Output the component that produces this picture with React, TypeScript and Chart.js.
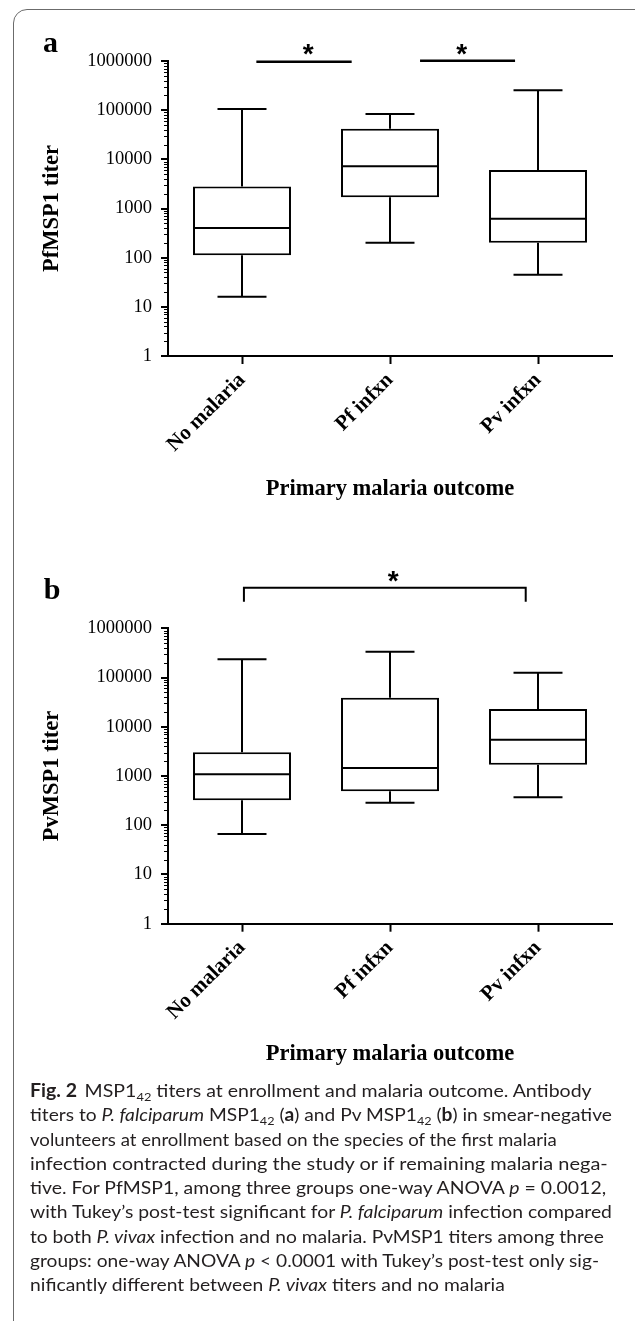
import React, { useEffect, useLayoutEffect, useRef } from 'react';
import { Chart, registerables } from 'chart.js';

Chart.register(...registerables);

// ---------- data ----------
const categories = ['No malaria', 'Pf infxn', 'Pv infxn'];
const yTickValues = [1, 10, 100, 1000, 10000, 100000, 1000000];
const yTickLabels = ['1', '10', '100', '1000', '10000', '100000', '1000000'];

// Panel a: PfMSP1 titer (box-and-whisker: min, Q1, median, Q3, max)
const pfMin = [16, 200, 45];
const pfQ1 = [112, 1700, 200];
const pfMedian = [400, 7200, 620];
const pfQ3 = [2800, 42000, 6100];
const pfMax = [105000, 84000, 255000];

// Panel b: PvMSP1 titer
const pvMin = [66, 287, 370];
const pvQ1 = [320, 490, 1700];
const pvMedian = [1080, 1450, 5450];
const pvQ3 = [3050, 39000, 23000];
const pvMax = [234000, 335000, 125000];

// significance marks (category-index positions, titer levels)
const pfSigFrom = [0.097, 1.203];
const pfSigTo = [0.741, 1.845];
const pfSigLevel = [968000, 1014000];
const pfStarAt = [0.448, 1.484];
const pfStarLevel = [1950000, 1950000];

const pvSigFrom = [0.013];
const pvSigTo = [1.917];
const pvSigLevel = [6680000];
const pvSigDrop = [3470000];
const pvStarAt = [1.022];
const pvStarLevel = [13100000];

// ---------- styling ----------
const SERIF = '"Liberation Serif", "Times New Roman", Times, serif';
const SANS = '"Liberation Sans", Arial, sans-serif';

interface PanelCfg {
  letter: string;
  letterX: number;
  letterY: number;
  yTitle: string;
  min: number[];
  q1: number[];
  med: number[];
  q3: number[];
  max: number[];
  sigFrom: number[];
  sigTo: number[];
  sigLevel: number[];
  sigDrop: (number | null)[];
  starAt: number[];
  starLevel: number[];
  canvasH: number;
  padTop: number;
  xScaleH: number;
  xTitlePad: number;
  top: number;
}

function makePlugin(cfg: PanelCfg) {
  return {
    id: 'boxWhisker' + cfg.letter,
    afterDatasetsDraw(chart: any) {
      const ctx = chart.ctx;
      const y = chart.scales.y;
      const meta = chart.getDatasetMeta(0);
      ctx.save();
      ctx.strokeStyle = '#000';
      ctx.lineWidth = 2;
      meta.data.forEach((bar: any, i: number) => {
        const p = bar.getProps(['x', 'width'], true);
        const x = p.x;
        const w = p.width;
        const cap = w / 4;
        const yMax = y.getPixelForValue(cfg.max[i]);
        const yQ3 = y.getPixelForValue(cfg.q3[i]);
        const yQ1 = y.getPixelForValue(cfg.q1[i]);
        const yMin = y.getPixelForValue(cfg.min[i]);
        const yMed = y.getPixelForValue(cfg.med[i]);
        ctx.beginPath();
        ctx.moveTo(x, yQ3);
        ctx.lineTo(x, yMax);
        ctx.moveTo(x - cap, yMax);
        ctx.lineTo(x + cap, yMax);
        ctx.moveTo(x, yQ1);
        ctx.lineTo(x, yMin);
        ctx.moveTo(x - cap, yMin);
        ctx.lineTo(x + cap, yMin);
        ctx.moveTo(x - w / 2 + 1, yMed);
        ctx.lineTo(x + w / 2 - 1, yMed);
        ctx.stroke();
      });
      ctx.restore();
    },
    afterDraw(chart: any) {
      const ctx = chart.ctx;
      const y = chart.scales.y;
      const xs = chart.scales.x;
      const left = chart.chartArea.left;
      ctx.save();
      ctx.strokeStyle = '#000';
      // y axis ticks (major + minor)
      for (let e = 0; e <= 6; e++) {
        for (let k = 1; k <= 9; k++) {
          const v = k * Math.pow(10, e);
          if (v > 1000000) break;
          const py = Math.round(y.getPixelForValue(v));
          const major = k === 1;
          ctx.lineWidth = major ? 2 : 1;
          ctx.beginPath();
          ctx.moveTo(left - (major ? 7 : 4), major ? py : py + 0.5);
          ctx.lineTo(left, major ? py : py + 0.5);
          ctx.stroke();
        }
      }
      // significance lines
      const px = (c: number) => xs.getPixelForValue(c);
      ctx.lineWidth = 2.5;
      cfg.sigFrom.forEach((f, i) => {
        const yl = y.getPixelForValue(cfg.sigLevel[i]);
        ctx.beginPath();
        const drop = cfg.sigDrop[i];
        if (drop != null) {
          const yd = y.getPixelForValue(drop);
          ctx.lineWidth = 2;
          ctx.moveTo(px(f), yd);
          ctx.lineTo(px(f), yl);
          ctx.lineTo(px(cfg.sigTo[i]), yl);
          ctx.lineTo(px(cfg.sigTo[i]), yd);
        } else {
          ctx.moveTo(px(f), yl);
          ctx.lineTo(px(cfg.sigTo[i]), yl);
        }
        ctx.stroke();
      });
      ctx.fillStyle = '#000';
      ctx.font = 'bold 28px ' + SANS;
      ctx.textAlign = 'center';
      ctx.textBaseline = 'alphabetic';
      cfg.starAt.forEach((s, i) => {
        ctx.fillText('*', px(s), y.getPixelForValue(cfg.starLevel[i]) + 0.58 * 28);
      });
      // panel letter
      ctx.font = 'bold 30px ' + SERIF;
      ctx.textAlign = 'left';
      ctx.fillText(cfg.letter, cfg.letterX, cfg.letterY);
      ctx.restore();
    },
  };
}

function buildConfig(cfg: PanelCfg): any {
  return {
    type: 'bar',
    data: {
      labels: categories,
      datasets: [
        {
          data: cfg.q1.map((v, i) => [v, cfg.q3[i]]),
          backgroundColor: '#ffffff',
          borderColor: '#000000',
          borderWidth: 2,
          borderSkipped: false,
          barPercentage: 0.662,
          categoryPercentage: 1,
        },
      ],
    },
    options: {
      responsive: false,
      animation: false,
      devicePixelRatio: 1,
      layout: { padding: { top: cfg.padTop, left: 0, right: 23, bottom: 0 } },
      plugins: {
        legend: { display: false },
        tooltip: { enabled: false },
        title: { display: false },
      },
      scales: {
        x: {
          type: 'category',
          offset: true,
          grid: {
            display: true,
            drawOnChartArea: false,
            drawTicks: true,
            tickLength: 8,
            tickWidth: 2,
            tickColor: '#000',
            offset: false,
          },
          border: { display: true, color: '#000', width: 2 },
          ticks: {
            minRotation: 45,
            maxRotation: 45,
            autoSkip: false,
            color: '#000',
            padding: 4,
            font: { family: SERIF, size: 21, weight: 'bold' },
          },
          title: {
            display: true,
            text: 'Primary malaria outcome',
            color: '#000',
            font: { family: SERIF, size: 22.5, weight: 'bold' },
            padding: { top: 0, bottom: cfg.xTitlePad },
          },
          afterFit: (s: any) => {
            s.height = cfg.xScaleH;
          },
        },
        y: {
          type: 'logarithmic',
          min: 1,
          max: 1000000,
          grid: { display: false, drawTicks: false },
          border: { display: true, color: '#000', width: 2 },
          afterBuildTicks: (s: any) => {
            s.ticks = yTickValues.map((v) => ({ value: v }));
          },
          ticks: {
            autoSkip: false,
            color: '#000',
            padding: 16,
            font: { family: SERIF, size: 18.5 },
            callback: (v: number) => yTickLabels[yTickValues.indexOf(v)] ?? '',
          },
          title: {
            display: true,
            text: cfg.yTitle,
            color: '#000',
            font: { family: SERIF, size: 22.5, weight: 'bold' },
            padding: { top: 38.5, bottom: 0 },
          },
          afterFit: (s: any) => {
            s.width = 168;
          },
        },
      },
    },
    plugins: [makePlugin(cfg)],
  };
}

const panelA: PanelCfg = {
  letter: 'a',
  letterX: 43,
  letterY: 51.7,
  yTitle: 'PfMSP1 titer',
  min: pfMin,
  q1: pfQ1,
  med: pfMedian,
  q3: pfQ3,
  max: pfMax,
  sigFrom: pfSigFrom,
  sigTo: pfSigTo,
  sigLevel: pfSigLevel,
  sigDrop: [null, null],
  starAt: pfStarAt,
  starLevel: pfStarLevel,
  canvasH: 530,
  padTop: 61,
  xScaleH: 174,
  xTitlePad: 27.5,
  top: 0,
};

const panelB: PanelCfg = {
  letter: 'b',
  letterX: 43.7,
  letterY: 69,
  yTitle: 'PvMSP1 titer',
  min: pvMin,
  q1: pvQ1,
  med: pvMedian,
  q3: pvQ3,
  max: pvMax,
  sigFrom: pvSigFrom,
  sigTo: pvSigTo,
  sigLevel: pvSigLevel,
  sigDrop: pvSigDrop,
  starAt: pvStarAt,
  starLevel: pvStarLevel,
  canvasH: 550,
  padTop: 98.3,
  xScaleH: 156.3,
  xTitlePad: 12.1,
  top: 530,
};

function Panel({ cfg }: { cfg: PanelCfg }) {
  const ref = useRef<HTMLCanvasElement>(null);
  useEffect(() => {
    const chart = new Chart(ref.current as HTMLCanvasElement, buildConfig(cfg));
    return () => chart.destroy();
  }, [cfg]);
  return (
    <canvas
      ref={ref}
      width={635}
      height={cfg.canvasH}
      style={{ position: 'absolute', left: 0, top: cfg.top, width: 635, height: cfg.canvasH }}
    />
  );
}

// ---------- caption ----------
const Sub = () => (
  <sub style={{ fontSize: '0.66em', verticalAlign: '-0.3em', lineHeight: 0 }}>42</sub>
);

const captionLines: React.ReactNode[] = [
  <>
    <b style={{ marginRight: 7 }}>Fig. 2</b>MSP1<Sub /> titers at enrollment and malaria outcome. Antibody
  </>,
  <>
    titers to <i>P. falciparum</i> MSP1<Sub /> (<b>a</b>) and Pv MSP1<Sub /> (<b>b</b>) in smear-negative
  </>,
  <>volunteers at enrollment based on the species of the first malaria</>,
  <>infection contracted during the study or if remaining malaria nega-</>,
  <>
    tive. For PfMSP1, among three groups one-way ANOVA <i>p</i> = 0.0012,
  </>,
  <>
    with Tukey’s post-test significant for <i>P. falciparum</i> infection compared
  </>,
  <>
    to both <i>P. vivax</i> infection and no malaria. PvMSP1 titers among three
  </>,
  <>
    groups: one-way ANOVA <i>p</i> &lt; 0.0001 with Tukey’s post-test only sig-
  </>,
  <>
    nificantly different between <i>P. vivax</i> titers and no malaria
  </>,
];
const captionWidths: (number | null)[] = [562, 581.6, 527, 577.5, 576, 582, 573.5, 569, null];

function Caption() {
  const refs = useRef<(HTMLSpanElement | null)[]>([]);
  useLayoutEffect(() => {
    const els = refs.current;
    const scales = els.map((el, i) => {
      const t = captionWidths[i];
      if (!el || t == null) return null;
      return t / el.offsetWidth;
    });
    const valid = scales.filter((s): s is number => s != null);
    const avg = valid.reduce((a, b) => a + b, 0) / (valid.length || 1);
    els.forEach((el, i) => {
      if (el) el.style.transform = `scaleX(${scales[i] ?? avg})`;
    });
  }, []);
  return (
    <div
      style={{
        position: 'absolute',
        left: 30,
        top: 1078,
        fontFamily: 'Lato, "Noto Sans", sans-serif',
        fontSize: 18,
        color: '#231f20',
      }}
    >
      {captionLines.map((ln, i) => (
        <div key={i} style={{ height: 24.3, lineHeight: '24.3px', whiteSpace: 'nowrap' }}>
          <span
            ref={(el) => {
              refs.current[i] = el;
            }}
            style={{ display: 'inline-block', transformOrigin: '0 50%' }}
          >
            {ln}
          </span>
        </div>
      ))}
    </div>
  );
}

export default function App() {
  return (
    <div
      style={{
        position: 'absolute',
        left: 0,
        top: 0,
        width: 635,
        height: 1321,
        overflow: 'hidden',
        background: '#ffffff',
      }}
    >
      <div
        style={{
          position: 'absolute',
          left: 13,
          top: 9,
          width: 720,
          height: 1400,
          border: '1.5px solid #6b6b6b',
          borderTopLeftRadius: 14,
          boxSizing: 'border-box',
        }}
      />
      <Panel cfg={panelA} />
      <Panel cfg={panelB} />
      <Caption />
    </div>
  );
}
